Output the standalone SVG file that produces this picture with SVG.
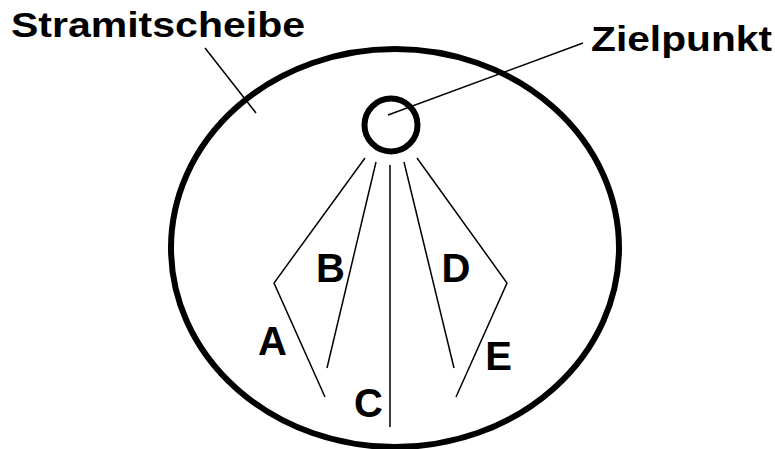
<svg xmlns="http://www.w3.org/2000/svg" width="775" height="449" viewBox="0 0 775 449">
<style>
.thick{fill:none;stroke:#000;stroke-width:6}
.thin{fill:none;stroke:#000;stroke-width:1.5}
.title{font-family:"Liberation Sans",Arial,sans-serif;font-weight:bold;font-size:35px;fill:#000}
.lbl{font-family:"Liberation Sans",Arial,sans-serif;font-weight:bold;font-size:40px;fill:#000;text-anchor:middle}
</style>
<rect width="775" height="449" fill="#fff"/>
<g id="stramitscheibe">
<ellipse class="thick" cx="395" cy="248" rx="224" ry="199"/>
<text class="title" x="11" y="37" textLength="294" lengthAdjust="spacingAndGlyphs">Stramitscheibe</text>
</g>
<g id="zielpunkt">
<circle class="thick" cx="391" cy="125" r="26.5"/>
<text class="title" x="591" y="51" textLength="181" lengthAdjust="spacingAndGlyphs">Zielpunkt</text>
</g>
<g id="connectors">
<line class="thin" x1="205" y1="48" x2="256" y2="113"/>
<line class="thin" x1="388" y1="115" x2="583" y2="43"/>
<polyline class="thin" points="365,158 274,283 325,397"/>
<line class="thin" x1="376" y1="162" x2="327" y2="368"/>
<line class="thin" x1="390" y1="165" x2="390" y2="427"/>
<line class="thin" x1="404" y1="162" x2="454" y2="368"/>
<polyline class="thin" points="417,158 507,283 456,397"/>
</g>
<g id="labels">
<text class="lbl" x="272.5" y="355">A</text>
<text class="lbl" x="330.5" y="282">B</text>
<text class="lbl" x="368.5" y="417">C</text>
<text class="lbl" x="456" y="282">D</text>
<text class="lbl" x="498.5" y="370">E</text>
</g>
</svg>
